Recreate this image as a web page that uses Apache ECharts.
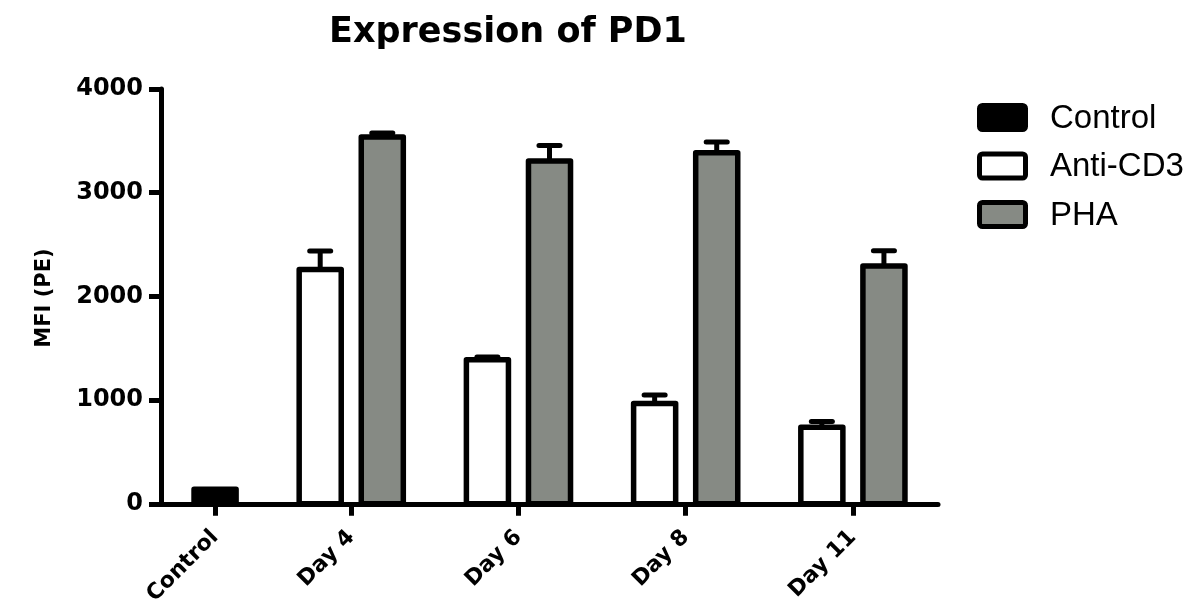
<!DOCTYPE html>
<html>
<head>
<meta charset="utf-8">
<title>Expression of PD1</title>
<script src="https://cdn.jsdelivr.net/npm/echarts@6/dist/echarts.min.js"></script>
<style>
  html, body { margin: 0; padding: 0; background: #fff; }
  #chart { width: 1200px; height: 608px; }
</style>
</head>
<body>
<div id="chart"></div>
<script>
// Mean fluorescence intensity (PE) of PD1, with SEM shown above each bar.
const categories = ['Control', 'Day 4', 'Day 6', 'Day 8', 'Day 11'];
const seriesNames = ['Control', 'Anti-CD3', 'PHA'];
const controlMean = [140, null, null, null, null];
const controlSem = [null, null, null, null, null];
const antiCD3Mean = [null, 2260, 1390, 968, 739];
const antiCD3Sem = [null, 177, 25, 82, 55];
const phaMean = [null, 3536, 3306, 3385, 2292];
const phaSem = [null, 40, 149, 105, 148];
const yMin = 0, yMax = 4000, yStep = 1000;

// Layout of the grouped bars along the x axis (axis units).
const BAR = 42, IN_GAP = 20, GROUP_GAP = 63, EDGE = 33, CAP = 21;
const fills = ['#000000', '#ffffff', '#868a84'];
const means = [controlMean, antiCD3Mean, phaMean];
const sems = [controlSem, antiCD3Sem, phaSem];

// Place bars group by group; groups only hold the series that have a value.
const seriesData = [[], [], []];
const groupCenters = [];
let cursor = EDGE;
categories.forEach((cat, g) => {
  const present = [0, 1, 2].filter(s => means[s][g] != null);
  const start = cursor;
  present.forEach((s, j) => {
    seriesData[s].push([cursor + BAR / 2, means[s][g], sems[s][g]]);
    cursor += BAR + (j < present.length - 1 ? IN_GAP : 0);
  });
  groupCenters.push((start + cursor) / 2);
  cursor += GROUP_GAP;
});
const xTotal = cursor - GROUP_GAP + EDGE;

function renderBar(fill) {
  return function (params, api) {
    const x = api.value(0), mean = api.value(1), sem = api.value(2);
    const base = api.coord([x, 0]);
    const top = api.coord([x, mean]);
    const w = api.size([BAR, 0])[0];
    const children = [];
    if (sem > 0) {
      const tip = api.coord([x, mean + sem]);
      const capW = api.size([CAP, 0])[0];
      children.push({ type: 'line', shape: { x1: top[0], y1: top[1], x2: tip[0], y2: tip[1] },
        style: { stroke: '#000', lineWidth: 5 } });
      children.push({ type: 'line', shape: { x1: tip[0] - capW / 2, y1: tip[1], x2: tip[0] + capW / 2, y2: tip[1] },
        style: { stroke: '#000', lineWidth: 5, lineCap: 'round' } });
    }
    children.push({ type: 'rect',
      shape: { x: base[0] - w / 2, y: top[1], width: w, height: base[1] - top[1] },
      style: { fill: fill, stroke: '#000', lineWidth: 5.5, lineJoin: 'round' } });
    return { type: 'group', children: children };
  };
}

// Legend: boxed swatches with labels to the right.
const legendItems = [];
seriesNames.forEach((n, i) => {
  const cy = 117.5 + i * 48.5;
  legendItems.push({
    type: 'rect', shape: { x: 979.5, y: cy - 12, width: 46, height: 24, r: 3 },
    style: { fill: fills[i], stroke: '#000', lineWidth: 5, lineJoin: 'round' }
  });
  legendItems.push({
    type: 'text', x: 1050, y: cy + 1,
    style: { text: n, fontFamily: 'Liberation Sans', fontSize: 33, fill: '#000', align: 'left', verticalAlign: 'middle' }
  });
});

const boldFont = 'DejaVu Sans';
const chart = echarts.init(document.getElementById('chart'), null, { renderer: 'canvas' });
chart.setOption({
  animation: false,
  backgroundColor: '#fff',
  title: {
    text: 'Expression of PD1',
    left: 503, top: 10, textAlign: 'center',
    textStyle: { fontFamily: boldFont, fontWeight: 'bold', fontSize: 35, color: '#000' }
  },
  grid: { left: 161, right: 262, top: 89, bottom: 101, containLabel: false },
  xAxis: {
    type: 'value', min: 0, max: xTotal,
    splitLine: { show: false },
    axisLine: { show: true, lineStyle: { color: '#000', width: 5 } },
    axisTick: { show: true, customValues: groupCenters, length: 12, lineStyle: { color: '#000', width: 5 } },
    axisLabel: {
      customValues: groupCenters, rotate: 45, margin: 30,
      fontFamily: boldFont, fontWeight: 'bold', fontSize: 22, color: '#000',
      formatter: v => {
        let best = 0;
        groupCenters.forEach((c, i) => { if (Math.abs(c - v) < Math.abs(groupCenters[best] - v)) best = i; });
        return categories[best];
      }
    }
  },
  yAxis: {
    type: 'value', min: yMin, max: yMax, interval: yStep,
    splitLine: { show: false },
    axisLine: { show: true, lineStyle: { color: '#000', width: 5 } },
    axisTick: { show: true, length: 12, lineStyle: { color: '#000', width: 5 } },
    axisLabel: { margin: 18, fontFamily: boldFont, fontWeight: 'bold', fontSize: 24, color: '#000',
      formatter: v => String(v) }
  },
  graphic: [{
    type: 'text', x: 45, y: 298, rotation: Math.PI / 2,
    style: { text: 'MFI (PE)', fontFamily: boldFont, fontWeight: 'bold', fontSize: 21, fill: '#000',
      align: 'center', verticalAlign: 'middle' }
  }].concat(legendItems),
  series: seriesNames.map((n, i) => ({
    name: n, type: 'custom', clip: false,
    itemStyle: { color: fills[i] },
    encode: { x: 0, y: 1 },
    renderItem: renderBar(fills[i]),
    data: seriesData[i]
  }))
});
</script>
</body>
</html>
